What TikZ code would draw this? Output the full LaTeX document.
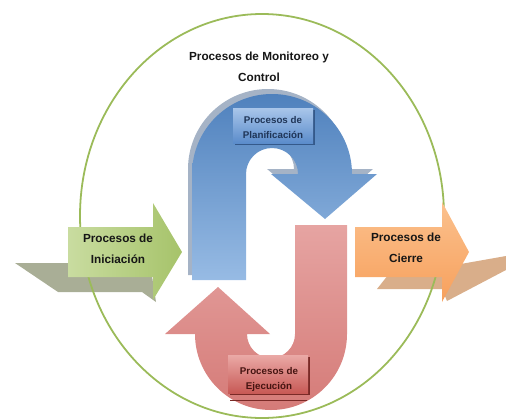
\documentclass[tikz,border=0pt]{standalone}
\usepackage{fontspec}
\setmainfont{Liberation Sans}
\definecolor{ellgreen}{HTML}{9BBB59}
\definecolor{gshadow}{HTML}{A9AE96}
\definecolor{oshadow}{HTML}{D9AE8A}
\definecolor{bluetop}{HTML}{4F81BD}
\definecolor{bluebot}{HTML}{97BBE4}
\definecolor{bluesh}{HTML}{A5B3C6}
\definecolor{plantop}{HTML}{A9C6EA}
\definecolor{planbot}{HTML}{5B8CCB}
\definecolor{planedge}{HTML}{34598A}
\definecolor{redtop}{HTML}{E6A4A2}
\definecolor{redmid}{HTML}{C3504C}
\definecolor{redbot}{HTML}{D57B78}
\definecolor{ejtop}{HTML}{EAA9A6}
\definecolor{ejbot}{HTML}{C85A56}
\definecolor{ejedge}{HTML}{7A2A27}
\definecolor{grleft}{HTML}{C9DCA0}
\definecolor{grright}{HTML}{A6C36A}
\definecolor{ortop}{HTML}{FBC18E}
\definecolor{orbot}{HTML}{F7A05C}
\definecolor{txtdark}{HTML}{161616}
\definecolor{txtblue}{HTML}{1F3557}
\definecolor{txtred}{HTML}{451411}
\begin{document}
\begin{tikzpicture}[x=1bp,y=1bp,
  lbl/.style={font=\fontsize{11.8}{21}\selectfont\bfseries, align=center, inner sep=0pt, text=txtdark},
  sml/.style={font=\fontsize{9.8}{15}\selectfont\bfseries, align=center, inner sep=0pt}]
\useasboundingbox (0,0) rectangle (506,419);
% shadows of the side arrows
\fill[gshadow] (15,156) -- (150,156) -- (156,117) -- (142,127) -- (58,127) -- cycle;
\fill[oshadow] (377,130) -- (392,149) -- (455,154) -- (506,163) -- (506,149) -- (447,118) -- (442,130) -- cycle;
% surrounding ellipse
\draw[ellgreen, line width=1.8] (262,203) ellipse [x radius=182, y radius=202];
% green arrow
\shade[left color=grleft, right color=grright]
  (68,192) -- (153,192) -- (153,216) -- (182,167) -- (153,119) -- (153,142) -- (68,142) -- cycle;
% orange arrow
\shade[top color=ortop, bottom color=orbot]
  (355,192) -- (442,192) -- (442,217) -- (469,167) -- (442,117) -- (442,142) -- (355,142) -- cycle;
% blue U-arrow with shadow
\fill[bluesh, shift={(-4,5)}]
  (192,139) -- (192,245) arc[start angle=180, end angle=0, radius=80] -- (377,245) -- (325,200)
  -- (271,245) -- (298,245) arc[start angle=0, end angle=180, radius=26] -- (246,139) -- cycle;
\shade[top color=bluetop, bottom color=bluebot]
  (192,139) -- (192,245) arc[start angle=180, end angle=0, radius=80] -- (377,245) -- (325,200)
  -- (271,245) -- (298,245) arc[start angle=0, end angle=180, radius=26] -- (246,139) -- cycle;
% red J-arrow
\shade[top color=redtop, middle color=redmid, bottom color=redbot]
  (347,194) -- (347,85) arc[start angle=0, end angle=-180, radius=76] -- (165,85) -- (218,132)
  -- (270,85) -- (247,85) arc[start angle=180, end angle=360, radius=24] -- (295,194) -- cycle;
% planning box
\fill[planedge] (235,274) rectangle (315,309);
\shade[top color=plantop, bottom color=planbot] (233,276) rectangle (313,311);
% execution box
\fill[ejedge] (230,24) rectangle (310,62);
\shade[top color=ejtop, bottom color=ejbot] (228,26) rectangle (308,64);
\draw[ejedge, line width=1] (230,19) -- (307,19);
% texts
\node[lbl] (mon) at (259,352) {Procesos de Monitoreo y\\Control};
\node[lbl] (ini) at (118,170) {Procesos de\\Iniciación};
\node[lbl] (cie) at (406,171.5) {Procesos de\\Cierre};
\node[sml, text=txtblue] (pla) at (273,291.5) {Procesos de\\Planificación};
\node[sml, text=txtred] (eje) at (269,40) {Procesos de\\Ejecución};
\end{tikzpicture}
\end{document}
